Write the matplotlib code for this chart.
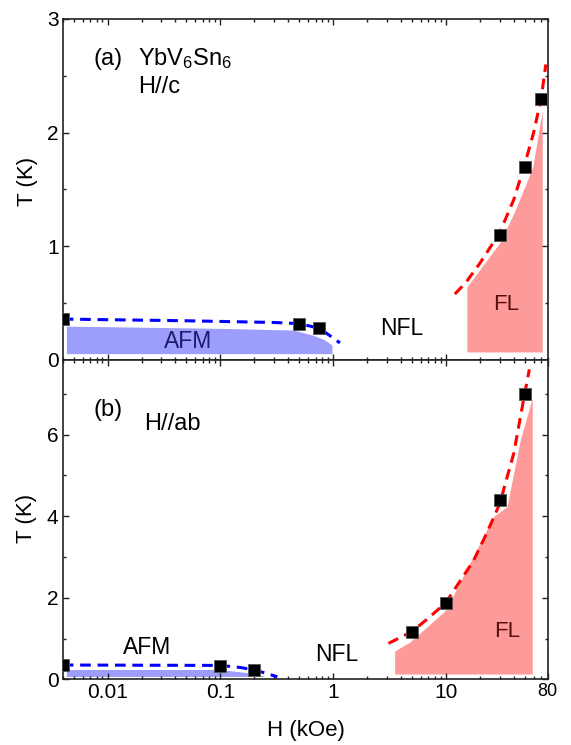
import numpy as np
import matplotlib
matplotlib.use("Agg")
import matplotlib.pyplot as plt
from matplotlib.ticker import LogLocator, FixedLocator, FixedFormatter, MultipleLocator, NullFormatter

plt.rcParams['font.family'] = ['Liberation Sans', 'DejaVu Sans']
plt.rcParams['mathtext.default'] = 'regular'

# ---- (a) H // c ----
h_c_afm = [0.004, 0.5, 0.75]
t_c_afm = [0.36, 0.32, 0.28]
h_c_fl = [30, 50, 70]
t_c_fl = [1.1, 1.7, 2.3]

# guide-to-the-eye dashed boundaries
h_c_afm_line = [0.004, 0.05, 0.3, 0.5, 0.75, 0.95, 1.15]
t_c_afm_line = [0.36, 0.345, 0.33, 0.32, 0.28, 0.21, 0.15]
h_c_fl_line = [12, 15, 20, 30, 40, 50, 60, 70, 77]
t_c_fl_line = [0.58, 0.68, 0.85, 1.12, 1.41, 1.72, 2.0, 2.3, 2.6]

# shaded regions (upper edge; lower edge is a constant)
h_c_afm_area = [0.0043, 0.1, 0.45, 0.67, 0.85, 1.0]
t_c_afm_area = [0.30, 0.28, 0.265, 0.22, 0.18, 0.13]
t_c_afm_floor = 0.045
h_c_fl_area = [15.3, 30, 40, 58.6, 73.3]
t_c_fl_area = [0.64, 1.03, 1.29, 1.69, 2.26]
t_c_fl_floor = 0.06

# ---- (b) H // ab ----
h_ab_afm = [0.004, 0.1, 0.2]
t_ab_afm = [0.35, 0.33, 0.23]
h_ab_fl = [5, 10, 30, 50]
t_ab_fl = [1.17, 1.88, 4.4, 7.0]

h_ab_afm_line = [0.004, 0.1, 0.15, 0.2, 0.26, 0.32]
t_ab_afm_line = [0.35, 0.34, 0.29, 0.23, 0.14, 0.06]
h_ab_fl_line = [3.1, 5, 7, 10, 17.6, 23, 30, 40, 50, 55]
t_ab_fl_line = [0.88, 1.17, 1.5, 1.88, 2.91, 3.58, 4.3, 5.54, 7.0, 7.6]

h_ab_afm_area = [0.0043, 0.1, 0.2, 0.28]
t_ab_afm_area = [0.245, 0.245, 0.15, 0.04]
t_ab_afm_floor = 0.04
h_ab_fl_area = [3.5, 4.83, 10, 26.4, 34.7, 45.6, 59.8]
t_ab_fl_area = [0.69, 0.92, 1.70, 3.99, 4.23, 5.87, 7.01]
t_ab_fl_floor = 0.1

x_ticks = [0.01, 0.1, 1, 10, 80]
x_ticklabels = ['0.01', '0.1', '1', '10', '80']

BLUE_FILL = '#9d9dfb'
RED_FILL = '#fd9b9b'

fig = plt.figure(figsize=(5.71, 7.45), dpi=100)
ax1 = fig.add_axes([0.1098, 0.5168, 0.8494, 0.4577])
ax2 = fig.add_axes([0.1098, 0.0882, 0.8494, 0.4286])


def style_axis(ax):
    ax.set_xscale('log')
    ax.set_xlim(0.004, 80)
    ax.xaxis.set_major_locator(FixedLocator([0.01, 0.1, 1, 10]))
    ax.xaxis.set_minor_locator(LogLocator(base=10, subs=np.arange(2, 10), numticks=20))
    ax.xaxis.set_minor_formatter(NullFormatter())
    ax.tick_params(which='both', direction='in', top=True, right=True,
                   labelsize=15, width=1.0, color='#222222', pad=3)
    ax.tick_params(which='major', length=4.5)
    ax.tick_params(which='minor', length=2.5)
    for s in ax.spines.values():
        s.set_linewidth(1.2)
        s.set_color('#222222')


def draw_area(ax, h, t, floor, color):
    xs = [h[0]] + list(h) + [h[-1]]
    ys = [floor] + list(t) + [floor]
    ax.fill(xs, ys, color=color, edgecolor='white', linewidth=1.0, zorder=1)


# panel (a)
style_axis(ax1)
ax1.set_ylim(0, 3)
ax1.yaxis.set_major_locator(MultipleLocator(1))
ax1.yaxis.set_minor_locator(MultipleLocator(0.5))
ax1.tick_params(axis='x', labelbottom=False)

draw_area(ax1, h_c_afm_area, t_c_afm_area, t_c_afm_floor, BLUE_FILL)
draw_area(ax1, h_c_fl_area, t_c_fl_area, t_c_fl_floor, RED_FILL)
ax1.plot(h_c_afm_line, t_c_afm_line, color='#0000ff', ls=(0, (3.5, 2.2)), lw=2.2, zorder=2)
ax1.plot(h_c_fl_line, t_c_fl_line, color='#ff0000', ls=(0, (3.5, 2.2)), lw=2.2, zorder=2)
ax1.plot(h_c_afm, t_c_afm, 's', color='black', mec='#555555', mew=0.6, ms=8.5, zorder=3)
ax1.plot(h_c_fl, t_c_fl, 's', color='black', mec='#555555', mew=0.6, ms=8.5, zorder=3)

ax1.text(0.052, 0.16, 'AFM', fontsize=16.5, color='#1c1c6e', ha='center', va='center')
ax1.text(4.1, 0.28, 'NFL', fontsize=16.5, color='black', ha='center', va='center')
ax1.text(34, 0.49, 'FL', fontsize=16, color='#5a0d0d', ha='center', va='center')
ax1.text(0.0075, 2.65, '(a)', fontsize=17, ha='left', va='center')
ax1.text(0.0188, 2.65, 'YbV$_6$Sn$_6$', fontsize=17, ha='left', va='center')
ax1.text(0.0188, 2.4, 'H//c', fontsize=17, ha='left', va='center')

# panel (b)
style_axis(ax2)
ax2.set_ylim(0, 7.83)
ax2.yaxis.set_major_locator(MultipleLocator(2))
ax2.yaxis.set_minor_locator(MultipleLocator(1))
ax2.xaxis.set_major_locator(FixedLocator(x_ticks))
ax2.xaxis.set_major_formatter(FixedFormatter(x_ticklabels))
ax2.get_xticklabels()[-1].set_fontsize(13)

draw_area(ax2, h_ab_afm_area, t_ab_afm_area, t_ab_afm_floor, BLUE_FILL)
draw_area(ax2, h_ab_fl_area, t_ab_fl_area, t_ab_fl_floor, RED_FILL)
ax2.plot(h_ab_afm_line, t_ab_afm_line, color='#0000ff', ls=(0, (3.5, 2.2)), lw=2.2, zorder=2)
ax2.plot(h_ab_fl_line, t_ab_fl_line, color='#ff0000', ls=(0, (3.5, 2.2)), lw=2.2, zorder=2)
ax2.plot(h_ab_afm, t_ab_afm, 's', color='black', mec='#555555', mew=0.6, ms=8.5, zorder=3)
ax2.plot(h_ab_fl, t_ab_fl, 's', color='black', mec='#555555', mew=0.6, ms=8.5, zorder=3)

ax2.text(0.0224, 0.78, 'AFM', fontsize=16.5, color='black', ha='center', va='center')
ax2.text(1.08, 0.6, 'NFL', fontsize=16.5, color='black', ha='center', va='center')
ax2.text(34.7, 1.17, 'FL', fontsize=16, color='#5a0d0d', ha='center', va='center')
ax2.text(0.0075, 6.6, '(b)', fontsize=17, ha='left', va='center')
ax2.text(0.0212, 6.25, 'H//ab', fontsize=17, ha='left', va='center')

fig.text(0.049, 0.756, 'T (K)', rotation=90, fontsize=16, ha='center', va='center')
fig.text(0.046, 0.304, 'T (K)', rotation=90, fontsize=16, ha='center', va='center')
fig.text(0.535, 0.02, 'H (kOe)', fontsize=16, ha='center', va='center')

fig.savefig('out.png', dpi=100)
